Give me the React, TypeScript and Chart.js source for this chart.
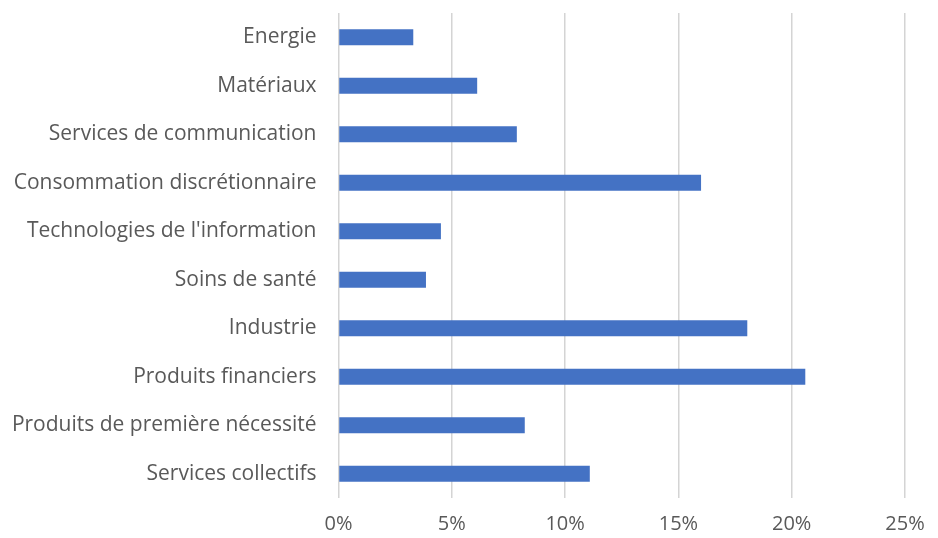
import React, { useEffect, useRef } from "react";
import { Chart, registerables } from "chart.js";

Chart.register(...registerables);

const categories = [
  "Energie",
  "Matériaux",
  "Services de communication",
  "Consommation discrétionnaire",
  "Technologies de l'information",
  "Soins de santé",
  "Industrie",
  "Produits financiers",
  "Produits de première nécessité",
  "Services collectifs",
];

const weights = [3.3, 6.12, 7.87, 16.0, 4.52, 3.86, 18.04, 20.6, 8.22, 11.09];

const xTicks = [0, 5, 10, 15, 20, 25];

const FONT = "'Open Sans', 'Noto Sans', sans-serif";

export default function App() {
  const ref = useRef<HTMLCanvasElement>(null);
  useEffect(() => {
    document.body.style.margin = "0";
    const ctx = ref.current!;
    const chart = new Chart(ctx, {
      type: "bar",
      data: {
        labels: categories,
        datasets: [
          {
            data: weights,
            backgroundColor: "#4472C4",
            borderWidth: 0,
            barPercentage: 0.66,
            categoryPercentage: 0.5,
          },
        ],
      },
      options: {
        indexAxis: "y",
        animation: false,
        responsive: false,
        maintainAspectRatio: false,
        layout: { padding: { top: 13, right: 33, bottom: 0, left: 0 } },
        plugins: { legend: { display: false }, tooltip: { enabled: false } },
        scales: {
          x: {
            min: 0,
            max: 25,
            afterBuildTicks: (s: any) => {
              s.ticks = xTicks.map((v) => ({ value: v }));
            },
            afterFit: (s: any) => {
              s.height = 40;
              s.paddingLeft = 0;
              s.paddingRight = 0;
            },
            grid: { color: "#d4d4d4", lineWidth: 1.5, drawTicks: false },
            border: { display: false },
            ticks: {
              padding: 14,
              color: "#595959",
              font: { family: FONT, size: 20 },
              callback: (v: any) => v + "%",
            },
          },
          y: {
            afterFit: (s: any) => {
              s.width = 338.5;
              s.paddingTop = 0;
              s.paddingBottom = 0;
            },
            grid: { display: false },
            border: { display: false },
            ticks: {
              padding: 14,
              color: "#595959",
              font: { family: FONT, size: 21 },
            },
          },
        },
      },
    });
    return () => chart.destroy();
  }, []);
  return (
    <div style={{ width: 938, height: 538, background: "#fff" }}>
      <canvas ref={ref} width={938} height={538} style={{ display: "block" }} />
    </div>
  );
}
